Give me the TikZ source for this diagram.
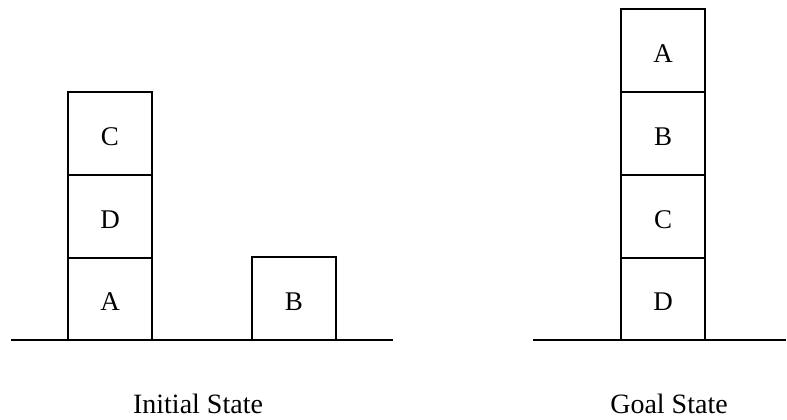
\documentclass[tikz,border=0pt]{standalone}
\usepackage{fontspec}
\setmainfont{Liberation Serif}
\begin{document}
\begin{tikzpicture}[x=1pt,y=-1pt,
  blockbox/.style={draw=black, line width=1.6pt, minimum width=84pt, minimum height=83pt, inner sep=0pt, font=\fontsize{27}{30}\selectfont, text depth=0pt, anchor=center},
  letter/.style={font=\fontsize{27}{30}\selectfont, inner sep=0pt, anchor=center},
  ground/.style={line width=1.6pt},
  caption/.style={font=\fontsize{28}{30}\selectfont, anchor=center}]
\useasboundingbox (0,0) rectangle (787,420);
% Initial state
\node[blockbox] (iA) at (110,299) {};
\node[blockbox] (iD) at (110,216.5) {};
\node[blockbox] (iC) at (110,133.5) {};
\node[blockbox] (iB) at (294,298.5) {};
\node[letter] (tA1) at ([yshift=-3pt]iA.center) {A};
\node[letter] (tD1) at ([yshift=-3pt]iD.center) {D};
\node[letter] (tC1) at ([yshift=-3pt]iC.center) {C};
\node[letter] (tB1) at ([yshift=-3pt]iB.center) {B};
\coordinate (gl1) at (11,340);
\coordinate (gr1) at (393,340);
\draw[ground] (gl1) -- (gr1);
\node[caption] (initcap) at (198,404) {Initial State};
% Goal state
\node[blockbox] (gD) at (663,299) {};
\node[blockbox] (gC) at (663,216.5) {};
\node[blockbox] (gB) at (663,133.5) {};
\node[blockbox] (gA) at (663,50.5) {};
\node[letter] (tD2) at ([yshift=-3pt]gD.center) {D};
\node[letter] (tC2) at ([yshift=-3pt]gC.center) {C};
\node[letter] (tB2) at ([yshift=-3pt]gB.center) {B};
\node[letter] (tA2) at ([yshift=-3pt]gA.center) {A};
\coordinate (gl2) at (533,340);
\coordinate (gr2) at (786,340);
\draw[ground] (gl2) -- (gr2);
\node[caption] (goalcap) at (669,404) {Goal State};
\end{tikzpicture}
\end{document}
